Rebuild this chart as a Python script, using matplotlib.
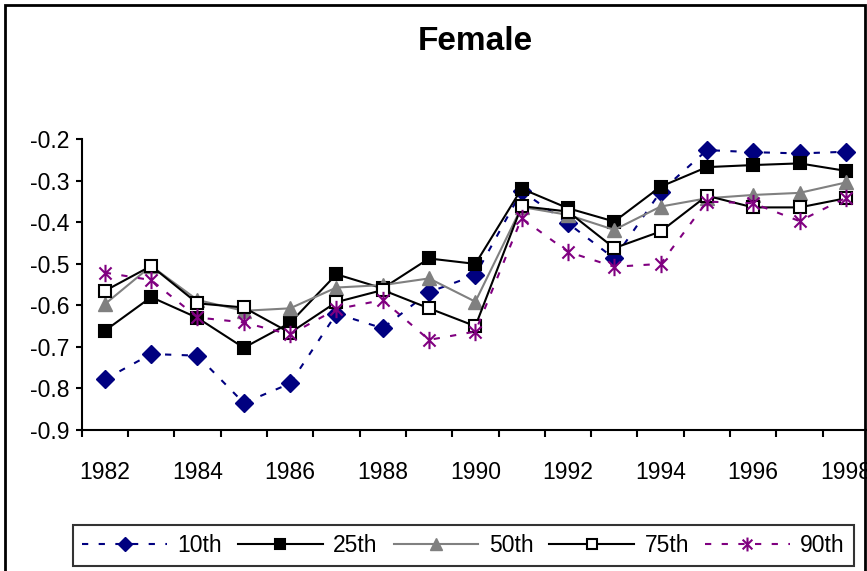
import numpy as np
import matplotlib
matplotlib.use('Agg')
import matplotlib.pyplot as plt
from matplotlib.path import Path
from matplotlib.patches import Rectangle

plt.rcParams['font.family'] = ['Liberation Sans', 'DejaVu Sans']

years = list(range(1982, 1999))
tick_years = [str(y) for y in range(1982, 1999, 2)]

p10 = [-0.778, -0.717, -0.721, -0.835, -0.788, -0.620, -0.655, -0.568, -0.527,
       -0.325, -0.402, -0.487, -0.326, -0.226, -0.231, -0.234, -0.230]
p25 = [-0.661, -0.580, -0.630, -0.702, -0.642, -0.525, -0.559, -0.487, -0.500,
       -0.319, -0.366, -0.398, -0.314, -0.267, -0.262, -0.258, -0.276]
p50 = [-0.597, -0.505, -0.587, -0.613, -0.607, -0.557, -0.551, -0.535, -0.591,
       -0.363, -0.382, -0.418, -0.362, -0.342, -0.334, -0.329, -0.304]
p75 = [-0.565, -0.505, -0.595, -0.605, -0.666, -0.592, -0.563, -0.607, -0.650,
       -0.361, -0.374, -0.462, -0.422, -0.336, -0.364, -0.364, -0.342]
p90 = [-0.521, -0.539, -0.629, -0.641, -0.670, -0.609, -0.587, -0.683, -0.663,
       -0.390, -0.471, -0.507, -0.500, -0.350, -0.354, -0.397, -0.341]

# Excel style asterisk: vertical bar plus an X
asterisk = Path([(0, -1), (0, 1), (-0.7, -0.7), (0.7, 0.7), (-0.7, 0.7), (0.7, -0.7)],
                [Path.MOVETO, Path.LINETO, Path.MOVETO, Path.LINETO, Path.MOVETO, Path.LINETO])

W, H = 867, 571
fig = plt.figure(figsize=(W / 100, H / 100), dpi=100)
ax = fig.add_axes([81.7 / W, 1 - 430 / H, (869 - 81.7) / W, (430 - 139.3) / H])

x = np.arange(len(years))
dash = (0, (3, 5))
ax.plot(x, p10, color='#000080', lw=1.5, ls=dash, marker='D', ms=9,
        mfc='#000080', mec='#000080', label='10th', clip_on=False)
ax.plot(x, p25, color='black', lw=1.5, marker='s', ms=8.5, mfc='black',
        mec='black', mew=1.5, label='25th', clip_on=False)
ax.plot(x, p50, color='#808080', lw=1.5, marker='^', ms=10.5, mfc='#808080',
        mec='#808080', label='50th', clip_on=False)
ax.plot(x, p75, color='black', lw=1.5, marker='s', ms=8.5, mfc='white',
        mec='black', mew=1.5, label='75th', clip_on=False)
ax.plot(x, p90, color='#800080', lw=1.5, ls=dash, marker=asterisk, ms=12.5,
        mfc='none', mec='#800080', mew=1.5, label='90th', clip_on=False)

ax.set_xlim(-0.5, len(years) - 0.5)
ax.set_ylim(-0.9, -0.2)
ax.set_yticks(np.arange(-0.9, -0.15, 0.1))
ax.set_yticklabels([f'{v:.1f}' for v in np.arange(-0.9, -0.15, 0.1)])

# category boundary ticks, labels on every other year
ax.set_xticks(np.arange(-0.5, len(years), 1.0))
ax.set_xticklabels([])
ax.set_xticks(np.arange(0, len(years), 2), minor=True)
ax.set_xticklabels(tick_years, minor=True)
ax.tick_params(axis='x', which='major', direction='out', length=5, width=1.5)
ax.tick_params(axis='x', which='minor', length=0, pad=22, labelsize=16.5)
ax.tick_params(axis='y', direction='out', length=4.3, width=1.5, pad=4.5, labelsize=16.5)

for s in ['top', 'right']:
    ax.spines[s].set_visible(False)
for s in ['left', 'bottom']:
    ax.spines[s].set_linewidth(1.5)

ax.set_title('Female', fontsize=24, fontweight='bold', pad=64)

leg = fig.legend(loc='lower left', bbox_to_anchor=(73 / W, 1 - 566 / H), ncol=5,
                 fontsize=16.5, frameon=True, fancybox=False, edgecolor='black',
                 handlelength=3.7, handletextpad=0.45, columnspacing=0.7,
                 borderpad=0.4, borderaxespad=0, markerscale=0.8)
leg.get_frame().set_linewidth(1.5)

# chart area border
fig.patches.append(Rectangle((4.5 / W, -0.1), (865 - 4.5) / W, 1.1 - 4.5 / H,
                             transform=fig.transFigure, fill=False,
                             edgecolor='black', lw=2, clip_on=False))

fig.savefig('out.png', dpi=100)
